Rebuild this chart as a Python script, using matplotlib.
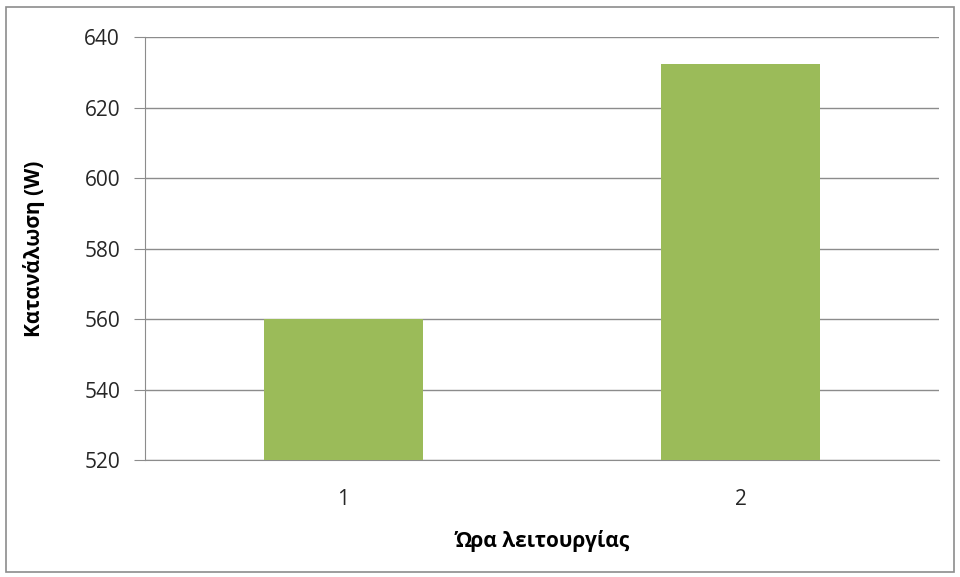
import matplotlib.pyplot as plt
from matplotlib.patches import Rectangle

# data
hours = ["1", "2"]
consumption = [560, 632.5]

plt.rcParams['font.family'] = ['Open Sans', 'DejaVu Sans']

fig = plt.figure(figsize=(9.6, 5.77), dpi=100)
ax = fig.add_axes([145 / 960, 1 - 460 / 577, (939 - 145) / 960, (460 - 37.3) / 577])

x = range(len(hours))
ax.bar(x, [v - 520 for v in consumption], bottom=520, width=0.4, color="#9bbb59", zorder=3)

ax.set_xlim(-0.5, 1.5)
ax.set_ylim(520, 640)
ax.set_yticks(range(520, 641, 20))
ax.set_xticks(list(x))
ax.set_xticklabels(hours)

ax.grid(axis="y", color="#8c8c8c", linewidth=1, zorder=0)
for s in ["top", "right"]:
    ax.spines[s].set_visible(False)
ax.spines["left"].set_color("#8c8c8c")
ax.spines["bottom"].set_color("#8c8c8c")
ax.tick_params(axis="y", length=8, color="#8c8c8c", labelsize=15, labelcolor="#262626", pad=10)
ax.tick_params(axis="x", length=0, labelsize=15, labelcolor="#262626", pad=21)

ax.set_ylabel("Κατανάλωση (W)", fontsize=15, fontweight="bold", labelpad=28)
ax.set_xlabel("Ώρα λειτουργίας", fontsize=15, fontweight="bold", labelpad=14)

# outer chart border
fig.patches.append(Rectangle((6 / 960, 1 - 572 / 577), 948 / 960, 565 / 577,
                             transform=fig.transFigure, fill=False,
                             edgecolor="#8c8c8c", linewidth=1.2))

fig.savefig("out.png", dpi=100)
